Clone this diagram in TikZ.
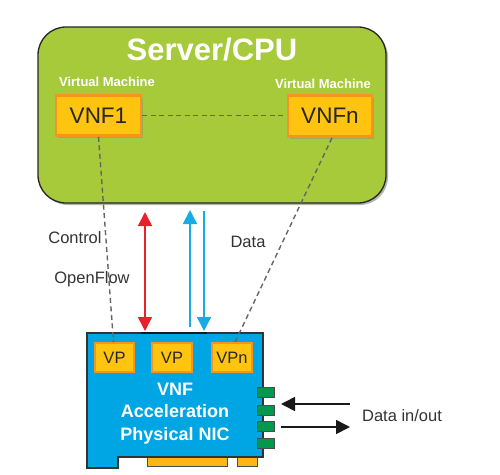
\documentclass[tikz,border=0pt]{standalone}
\usepackage{fontspec}
\setmainfont{Liberation Sans}
\usetikzlibrary{arrows.meta,shadows}
\definecolor{srvgreen}{HTML}{A6CA3A}
\definecolor{nicblue}{HTML}{00A6E4}
\definecolor{vnfgold}{HTML}{FFC40F}
\definecolor{vnforange}{HTML}{F7931E}
\definecolor{arrred}{HTML}{E8212B}
\definecolor{arrblue}{HTML}{17ABE3}
\definecolor{portgreen}{HTML}{03984C}
\definecolor{tabgold}{HTML}{FDB715}
\definecolor{txtgray}{HTML}{333333}
\tikzset{
  vnfbox/.style={draw=vnforange, line width=2.6pt, fill=vnfgold, inner sep=0pt,
    drop shadow={shadow xshift=2pt, shadow yshift=-2pt, opacity=0.35},
    font=\fontsize{22.5}{24}\selectfont, text=black!85},
  vpbox/.style={draw=vnforange, line width=1.4pt, fill=vnfgold, inner sep=0pt,
    minimum width=40pt, minimum height=29pt,
    drop shadow={shadow xshift=1.5pt, shadow yshift=-1.5pt, opacity=0.35},
    font=\fontsize{16.5}{18}\selectfont, text=black!85},
  vmlabel/.style={font=\bfseries\fontsize{13}{15}\selectfont, text=white},
  dashline/.style={draw=black!60, dash pattern=on 5pt off 3.5pt, line width=1.4pt},
  lbl/.style={font=\fontsize{16.5}{18}\selectfont, text=txtgray},
  port/.style={draw=black!70, line width=0.6pt, fill=portgreen, minimum width=17pt, minimum height=10pt, inner sep=0pt},
  tab/.style={draw=black!70, line width=0.6pt, fill=tabgold},
  bigtip/.style={-{Triangle[length=14pt,width=14pt]}},
  twotip/.style={{Triangle[length=14pt,width=14pt]}-{Triangle[length=14pt,width=14pt]}},
}
\begin{document}
\begin{tikzpicture}[x=1pt,y=-1pt]
\useasboundingbox (0,0) rectangle (500,474);
% Server
\node[draw=black!85, line width=1.3pt, fill=srvgreen, rounded corners=28pt,
  minimum width=348pt, minimum height=176pt,
  drop shadow={shadow xshift=2pt, shadow yshift=-2pt, opacity=0.6}] (server) at (212,115) {};
\node[font=\bfseries\fontsize{31}{32}\selectfont, text=white] (title) at (212,50) {Server/CPU};
\node[vmlabel] (vm1) at (107,82) {Virtual Machine};
\node[vmlabel] (vm2) at (323,84) {Virtual Machine};
\node[vnfbox, minimum width=85pt, minimum height=40pt] (vnf1) at (98.5,115.5) {VNF1};
\node[vnfbox, minimum width=84pt, minimum height=41pt] (vnfn) at (330,116) {VNFn};
\draw[dashline] (vnf1.east) -- (vnf1.east -| vnfn.west);

% NIC card
\node[minimum width=176pt, minimum height=124pt, inner sep=0pt] (nic) at (175,395) {};
\draw[tab] (147,457) rectangle (227,466);
\draw[tab] (237,457) rectangle (257,466);
\filldraw[fill=nicblue, draw=black!80, line width=1.2pt]
  (87,333) -- (263,333) -- (263,457) -- (118,457) -- (118,468) -- (87,468) -- cycle;
\draw[line width=2.5pt, black!90] (141,333) -- (207,333);
\node[port] (p1) at (265.5,392) {};
\node[port] (p2) at (265.5,410) {};
\node[port] (p3) at (265.5,426) {};
\node[port] (p4) at (265.5,443) {};
\node[vpbox, minimum width=39pt] (vp1) at (114.5,357.5) {VP};
\node[vpbox] (vp2) at (172,357.5) {VP};
\node[vpbox] (vpn) at (232,357.5) {VPn};
\node[font=\bfseries\fontsize{18}{22.5}\selectfont, text=white, align=center] (nictxt) at (175,413.5) {VNF\\Acceleration\\Physical NIC};

% dashed connections
\draw[dashline] (vnf1.south) -- ([xshift=-1pt]vp1.north);
\draw[dashline] ([xshift=2pt]vnfn.south) -- ([xshift=3pt]vpn.north);

% arrows
\coordinate (rt) at (145,212);
\coordinate (rb) at (145,331);
\coordinate (but) at (190,210);
\coordinate (bub) at (190,327);
\coordinate (bdt) at (204,211);
\coordinate (bdb) at (204,331);
\draw[twotip, arrred, line width=1.6pt] (rt) -- (rb);
\draw[bigtip, arrblue, line width=1.6pt] (bub) -- (but);
\draw[bigtip, arrblue, line width=1.6pt] (bdt) -- (bdb);

\node[lbl] (ctl) at (75,238) {Control};
\node[lbl] (of) at (92,279) {OpenFlow};
\node[lbl] (data) at (248,242) {Data};

% data in/out
\coordinate (inS) at (350,404);
\coordinate (inE) at (281,404);
\coordinate (outS) at (281,427);
\coordinate (outE) at (350,427);
\draw[bigtip, black!90, line width=1.6pt] (inS) -- (inE);
\draw[bigtip, black!90, line width=1.6pt] (outS) -- (outE);
\node[lbl] (dio) at (402,416) {Data in/out};
\end{tikzpicture}
\end{document}
